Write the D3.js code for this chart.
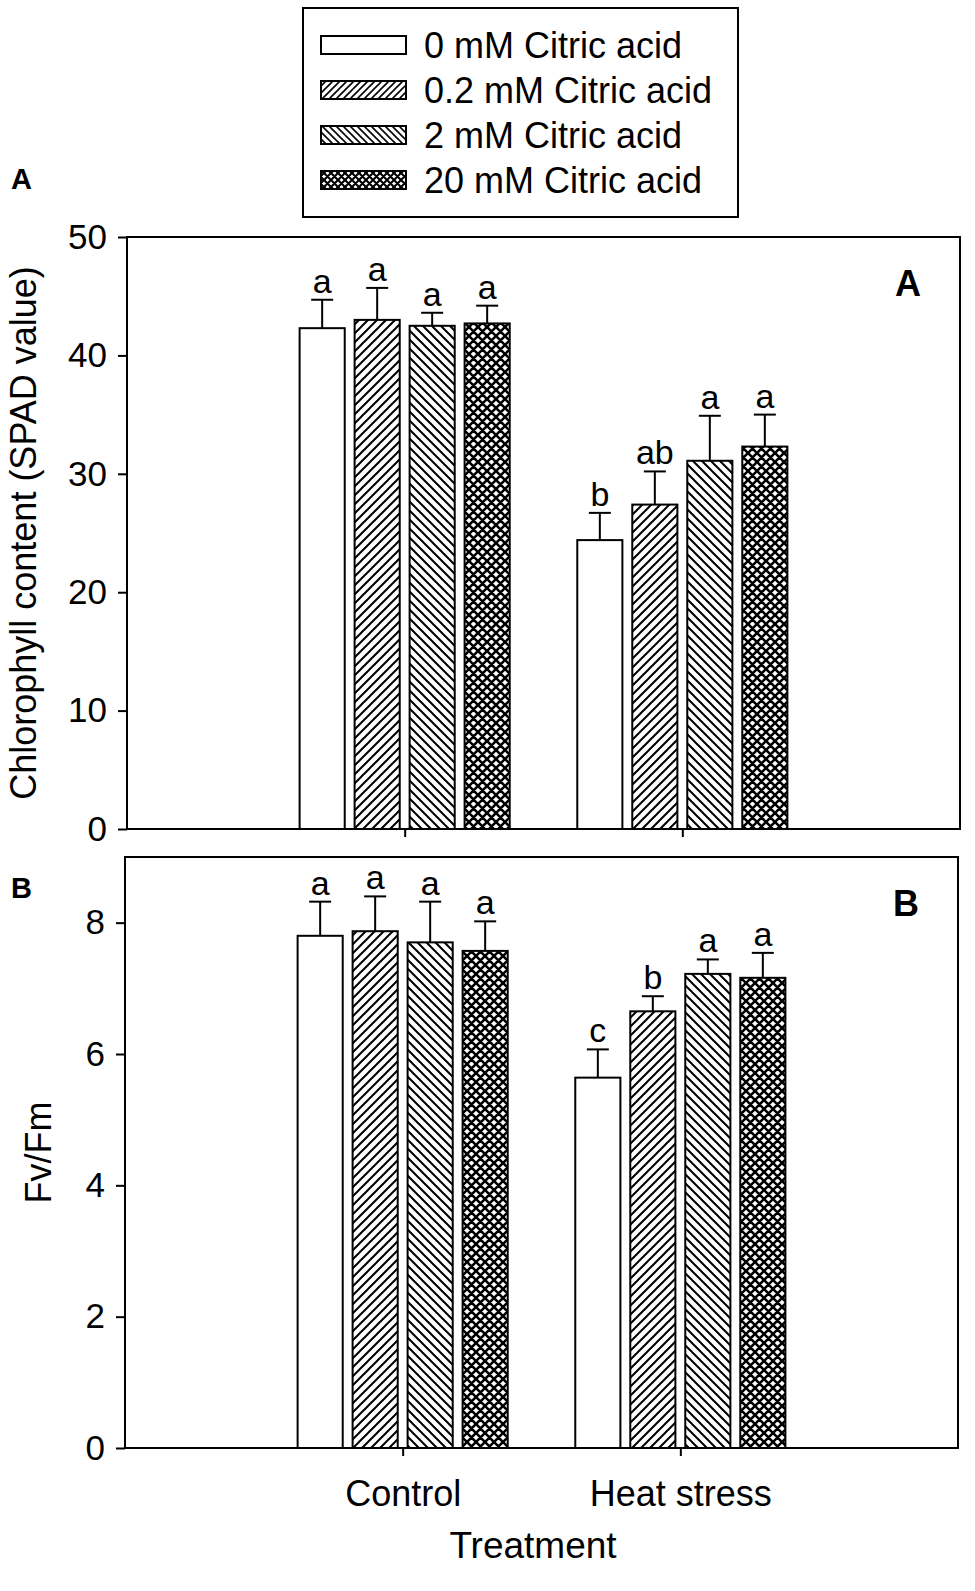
<!DOCTYPE html>
<html lang="en">
<head>
  <meta charset="UTF-8">
  <script src="https://d3js.org/d3.v7.min.js"></script>
  <title>Citric acid</title>
  <style>
    body { margin: 0; background: #fff; }
    text { font-family: "Liberation Sans", Arial, sans-serif; fill: #000; }
  </style>
</head>
<body>
<script>
  // data
  const groups = ["Control", "Heat stress"]
  const series = ["0 mM Citric acid", "0.2 mM Citric acid", "2 mM Citric acid", "20 mM Citric acid"]
  const patterns = ["none", "fwd", "back", "cross"]

  const chlMean = [[42.3, 43.0, 42.5, 42.7], [24.4, 27.4, 31.1, 32.3]]
  const chlErr = [[2.4, 2.7, 1.1, 1.5], [2.3, 2.8, 3.8, 2.7]]
  const chlLetters = [["a", "a", "a", "a"], ["b", "ab", "a", "a"]]
  const chlTicks = [0, 10, 20, 30, 40, 50]

  const fvMean = [[7.8, 7.87, 7.7, 7.57], [5.64, 6.65, 7.22, 7.16]]
  const fvErr = [[0.52, 0.53, 0.62, 0.45], [0.43, 0.23, 0.22, 0.38]]
  const fvLetters = [["a", "a", "a", "a"], ["c", "b", "a", "a"]]
  const fvTicks = [0, 2, 4, 6, 8]

  const W = 975, H = 1591
  const svg = d3.select("body").append("svg").attr("width", W).attr("height", H)

  // hatch patterns
  const defs = svg.append("defs")
  function makePattern(id, size, d, sw) {
    const p = defs.append("pattern").attr("id", id)
      .attr("patternUnits", "userSpaceOnUse")
      .attr("width", size).attr("height", size)
    p.append("rect").attr("width", size).attr("height", size).attr("fill", "#fff")
    p.append("path").attr("d", d).attr("stroke", "#000").attr("stroke-width", sw).attr("fill", "none")
  }
  function fwdPath(s) { return `M0,${s} L${s},0 M${-s/4},${s/4} L${s/4},${-s/4} M${s*3/4},${s*5/4} L${s*5/4},${s*3/4}` }
  function backPath(s) { return `M0,0 L${s},${s} M${-s/4},${s*3/4} L${s/4},${s*5/4} M${s*3/4},${-s/4} L${s*5/4},${s/4}` }
  makePattern("fwd", 9, fwdPath(9), 2)
  makePattern("back", 9, backPath(9), 2)
  makePattern("cross", 9, fwdPath(9) + " " + backPath(9), 2.6)
  makePattern("fwdS", 7, fwdPath(7), 1.6)
  makePattern("backS", 7, backPath(7), 1.6)
  makePattern("crossS", 7, fwdPath(7) + " " + backPath(7), 2.1)

  function fillFor(i, small) {
    if (patterns[i] == "none") return "#fff"
    return `url(#${patterns[i]}${small ? "S" : ""})`
  }

  /*
    Draw one panel
  */
  function drawPanel(opt) {
    const g = svg.append("g").attr("transform", `translate(${opt.left},${opt.top})`)
    const w = opt.right - opt.left, h = opt.bottom - opt.top

    const x = d3.scalePoint().domain(groups).range([0, w]).padding(1)
    const xs = d3.scaleBand().domain(series).range([-110, 110]).paddingInner(0.18).paddingOuter(0.09)
    const y = d3.scaleLinear().domain([0, opt.max]).range([h, 0])

    const rows = []
    groups.forEach((gr, gi) => series.forEach((s, si) => rows.push({
      g: gr, s: s, si: si, v: opt.mean[gi][si], e: opt.err[gi][si], l: opt.letters[gi][si]
    })))

    // error bars (upper only)
    const eb = g.selectAll(".eb").data(rows).enter().append("g")
      .attr("transform", d => `translate(${x(d.g) + xs(d.s) + xs.bandwidth() / 2},0)`)
    eb.append("line").attr("y1", d => y(d.v)).attr("y2", d => y(d.v + d.e))
      .attr("stroke", "#000").attr("stroke-width", 2)
    eb.append("line").attr("x1", -11).attr("x2", 11)
      .attr("y1", d => y(d.v + d.e)).attr("y2", d => y(d.v + d.e))
      .attr("stroke", "#000").attr("stroke-width", 2)
    eb.append("text").attr("y", d => y(d.v + d.e) - 7)
      .attr("text-anchor", "middle").attr("font-size", 34).text(d => d.l)

    // bars
    g.selectAll(".bar").data(rows).enter().append("rect")
      .attr("x", d => x(d.g) + xs(d.s)).attr("width", xs.bandwidth())
      .attr("y", d => y(d.v)).attr("height", d => h - y(d.v))
      .attr("fill", d => fillFor(d.si, false))
      .attr("stroke", "#000").attr("stroke-width", 2)

    // frame
    g.append("rect").attr("width", w).attr("height", h)
      .attr("fill", "none").attr("stroke", "#000").attr("stroke-width", 2)

    // y axis
    const ya = g.append("g").call(d3.axisLeft(y).tickValues(opt.ticks).tickSize(9).tickPadding(11).tickFormat(d3.format("d")))
    ya.select(".domain").remove()
    ya.selectAll("line").attr("stroke-width", 2)
    ya.selectAll("text").attr("font-size", 35).attr("font-family", "Liberation Sans, Arial, sans-serif")

    // x axis ticks
    const xa = g.append("g").attr("transform", `translate(0,${h})`)
      .call(d3.axisBottom(x).tickSize(8).tickFormat(opt.xlabels ? null : ""))
    xa.select(".domain").remove()
    xa.selectAll("line").attr("stroke-width", 2)
    xa.selectAll("text").attr("font-size", 36).attr("dy", "1.3em")
      .attr("font-family", "Liberation Sans, Arial, sans-serif")

    // y title
    svg.append("text")
      .attr("transform", `translate(${opt.ytx},${(opt.top + opt.bottom) / 2}) rotate(-90)`)
      .attr("text-anchor", "middle").attr("font-size", 36).text(opt.ytitle)

    // panel letters
    svg.append("text").attr("x", 11).attr("y", opt.tagY)
      .attr("font-size", 29).attr("font-weight", "bold").text(opt.tag)
    svg.append("text").attr("x", opt.right - 52).attr("y", opt.top + 59)
      .attr("text-anchor", "middle").attr("font-size", 36).attr("font-weight", "bold").text(opt.tag)
  }

  drawPanel({ left: 127, right: 960, top: 237, bottom: 829, max: 50, ticks: chlTicks,
    mean: chlMean, err: chlErr, letters: chlLetters, xlabels: false,
    ytitle: "Chlorophyll content (SPAD value)", ytx: 36, tag: "A", tagY: 189 })

  drawPanel({ left: 125, right: 958, top: 857, bottom: 1448, max: 9, ticks: fvTicks,
    mean: fvMean, err: fvErr, letters: fvLetters, xlabels: true,
    ytitle: "Fv/Fm", ytx: 51, tag: "B", tagY: 898 })

  svg.append("text").attr("x", 533).attr("y", 1558).attr("text-anchor", "middle")
    .attr("font-size", 37).text("Treatment")

  // legend
  const lg = svg.append("g").attr("transform", "translate(303,8)")
  lg.append("rect").attr("width", 435).attr("height", 209)
    .attr("fill", "#fff").attr("stroke", "#000").attr("stroke-width", 2)
  const li = lg.selectAll(".li").data(series).enter().append("g")
    .attr("transform", (d, i) => `translate(0,${37 + i * 45})`)
  li.append("rect").attr("x", 18).attr("y", -9).attr("width", 85).attr("height", 18)
    .attr("fill", (d, i) => fillFor(i, true)).attr("stroke", "#000").attr("stroke-width", 2)
  li.append("text").attr("x", 121).attr("y", 13).attr("font-size", 36).text(d => d)
</script>
</body>
</html>
